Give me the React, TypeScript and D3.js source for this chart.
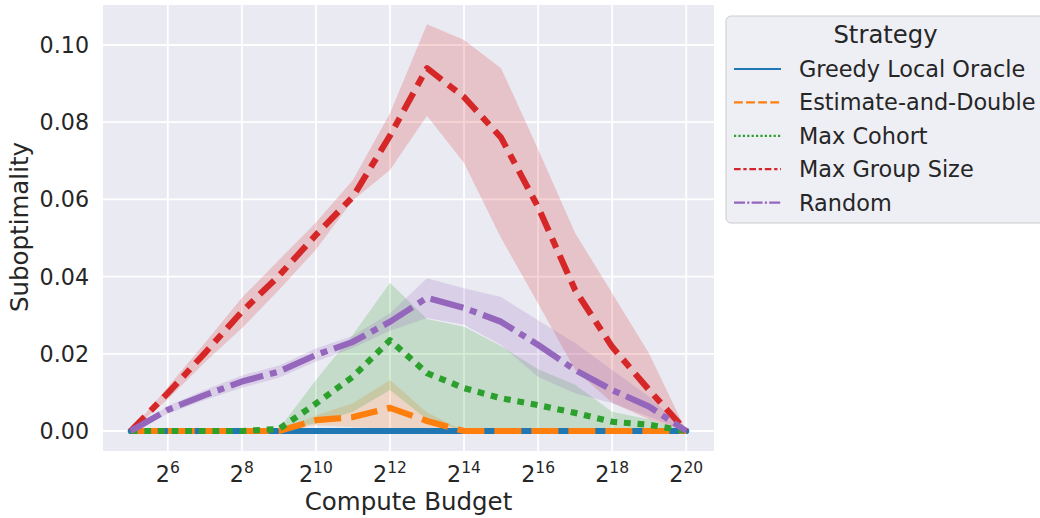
import * as d3 from "d3"

// compute budgets (x) and their exponents for tick labels
const budgets = [32, 64, 128, 256, 512, 1024, 2048, 4096, 8192, 16384, 32768, 65536, 131072, 262144, 524288, 1048576]
const tickExponents = [6, 8, 10, 12, 14, 16, 18, 20]
const yTicks = [0, 0.02, 0.04, 0.06, 0.08, 0.1]

const strategies = ["Greedy Local Oracle", "Estimate-and-Double", "Max Cohort", "Max Group Size", "Random"]

const greedyMean = [0, 0, 0, 0, 0, 0, 0, 0, 0, 0, 0, 0, 0, 0, 0, 0]
const greedyLo = [0, 0, 0, 0, 0, 0, 0, 0, 0, 0, 0, 0, 0, 0, 0, 0]
const greedyHi = [0, 0, 0, 0, 0, 0, 0, 0, 0, 0, 0, 0, 0, 0, 0, 0]

const estimateMean = [0, 0, 0, 0, 0, 0.0028, 0.0036, 0.006, 0.0026, 0, 0, 0, 0, 0, 0, 0]
const estimateLo = [0, 0, 0, 0, 0, 0.0015, 0.001, 0.0005, 0, 0, 0, 0, 0, 0, 0, 0]
const estimateHi = [0, 0, 0, 0, 0, 0.004, 0.0072, 0.0132, 0.0048, 0, 0, 0, 0, 0, 0, 0]

const cohortMean = [0, 0, 0, 0, 0.0005, 0.0071, 0.0141, 0.0235, 0.015, 0.0111, 0.0085, 0.0067, 0.0047, 0.0024, 0.0016, 0]
const cohortLo = [0, 0, 0, 0, 0, 0.002, 0.005, 0.0106, 0.003, 0, 0, 0, 0, 0, 0, 0]
const cohortHi = [0, 0, 0, 0, 0.0005, 0.0132, 0.025, 0.0384, 0.029, 0.027, 0.022, 0.016, 0.012, 0.005, 0.003, 0]

const groupMean = [0, 0.0098, 0.0202, 0.0309, 0.0402, 0.0508, 0.0607, 0.0765, 0.094, 0.0865, 0.076, 0.058, 0.0365, 0.0218, 0.0106, 0]
const groupLo = [0, 0.0082, 0.0178, 0.0266, 0.0365, 0.047, 0.0598, 0.0676, 0.0817, 0.0694, 0.05, 0.033, 0.0158, 0.0073, 0.003, 0]
const groupHi = [0, 0.0114, 0.0228, 0.0345, 0.0443, 0.054, 0.065, 0.0823, 0.1054, 0.1013, 0.094, 0.073, 0.0513, 0.0357, 0.02, 0]

const randomMean = [0, 0.0055, 0.0093, 0.0128, 0.0154, 0.0197, 0.0231, 0.0283, 0.0345, 0.0319, 0.0283, 0.0223, 0.0158, 0.0106, 0.0063, 0]
const randomLo = [0, 0.0045, 0.008, 0.0112, 0.0138, 0.018, 0.0215, 0.026, 0.0293, 0.0275, 0.0223, 0.014, 0.0098, 0.0072, 0.0037, 0]
const randomHi = [0, 0.0065, 0.0106, 0.0144, 0.017, 0.0214, 0.0247, 0.0305, 0.0396, 0.037, 0.0347, 0.0287, 0.0228, 0.0158, 0.0089, 0]

const colors = ["#1f77b4", "#ff7f0e", "#2ca02c", "#d62728", "#9467bd"]
const dashes = ["", "27,10", "6.8,6.8", "20,8.5,10,8.5", "34,7,7,7"]
const legendDashes = ["", "8.8,3.3", "2.2,2.2", "6.6,2.75,3.3,2.75", "11,2.2,2.2,2.2"]

const series = [
  { mean: greedyMean, lo: greedyLo, hi: greedyHi },
  { mean: estimateMean, lo: estimateLo, hi: estimateHi },
  { mean: cohortMean, lo: cohortLo, hi: cohortHi },
  { mean: groupMean, lo: groupLo, hi: groupHi },
  { mean: randomMean, lo: randomLo, hi: randomHi },
]

const W = 1040
const H = 518
const plot = { left: 103, right: 714, top: 5, bottom: 451 }
const font = "DejaVu Sans, sans-serif"

export default function App() {
  const x = d3
    .scaleLog()
    .base(2)
    .domain([Math.pow(2, 4.25), Math.pow(2, 20.75)])
    .range([plot.left, plot.right])
  const y = d3.scaleLinear().domain([-0.00518, 0.11036]).range([plot.bottom, plot.top])

  const line = d3
    .line<number>()
    .x((_, i) => x(budgets[i]))
    .y((d) => y(d))

  const area = (lo: number[], hi: number[]) =>
    d3
      .area<number>()
      .x((_, i) => x(budgets[i]))
      .y0((_, i) => y(lo[i]))
      .y1((_, i) => y(hi[i]))(budgets) || ""

  return (
    <div style={{ position: "fixed", left: 0, top: 0 }}>
      <svg width={W} height={H} style={{ display: "block" }}>
        <rect x={0} y={0} width={W} height={H} fill="white" />
        <rect
          x={plot.left}
          y={plot.top}
          width={plot.right - plot.left}
          height={plot.bottom - plot.top}
          fill="#eaeaf2"
        />
        {/* grid */}
        {tickExponents.map((e) => (
          <line
            key={"gx" + e}
            x1={x(Math.pow(2, e))}
            x2={x(Math.pow(2, e))}
            y1={plot.top}
            y2={plot.bottom}
            stroke="white"
            strokeWidth={1.8}
          />
        ))}
        {yTicks.map((t) => (
          <line
            key={"gy" + t}
            x1={plot.left}
            x2={plot.right}
            y1={y(t)}
            y2={y(t)}
            stroke="white"
            strokeWidth={1.8}
          />
        ))}

        {/* confidence bands */}
        {series.map((s, i) => (
          <path key={"band" + i} d={area(s.lo, s.hi)} fill={colors[i]} fillOpacity={0.2} stroke="none" />
        ))}

        {/* lines */}
        {series.map((s, i) => (
          <path
            key={"line" + i}
            d={line(s.mean) || ""}
            fill="none"
            stroke={colors[i]}
            strokeWidth={6.2}
            strokeDasharray={dashes[i] || undefined}
            strokeLinecap={i === 0 ? "round" : "butt"}
            strokeLinejoin="round"
          />
        ))}

        {/* y tick labels */}
        {yTicks.map((t) => (
          <text
            key={"yt" + t}
            x={89}
            y={y(t)}
            dy="0.36em"
            textAnchor="end"
            fontFamily={font}
            fontSize={22.2}
            fill="#262626"
          >
            {t.toFixed(2)}
          </text>
        ))}

        {/* x tick labels */}
        {tickExponents.map((e) => (
          <text
            key={"xt" + e}
            x={x(Math.pow(2, e))}
            y={482}
            textAnchor="middle"
            fontFamily={font}
            fontSize={22.2}
            fill="#262626"
          >
            <tspan>2</tspan>
            <tspan dy={-9} fontSize={15.5}>
              {e}
            </tspan>
          </text>
        ))}

        {/* axis labels */}
        <text
          x={(plot.left + plot.right) / 2}
          y={510}
          textAnchor="middle"
          fontFamily={font}
          fontSize={24.5}
          fill="#262626"
        >
          Compute Budget
        </text>
        <text
          transform={`translate(28,227) rotate(-90)`}
          textAnchor="middle"
          fontFamily={font}
          fontSize={24.5}
          fill="#262626"
        >
          Suboptimality
        </text>

        {/* legend */}
        <rect x={726} y={16} width={330} height={207} rx={5} fill="#eeeef5" stroke="#cccccc" strokeWidth={1} />
        <text x={885.5} y={43} textAnchor="middle" fontFamily={font} fontSize={24.3} fill="#262626">
          Strategy
        </text>
        {strategies.map((name, i) => {
          const cy = 69 + i * 33.4
          return (
            <g key={"leg" + i}>
              <line
                x1={734}
                x2={781}
                y1={cy}
                y2={cy}
                stroke={colors[i]}
                strokeWidth={2.2}
                strokeDasharray={legendDashes[i] || undefined}
              />
              <text x={799} y={cy + 8} fontFamily={font} fontSize={22.4} fill="#262626">
                {name}
              </text>
            </g>
          )
        })}
      </svg>
    </div>
  )
}
